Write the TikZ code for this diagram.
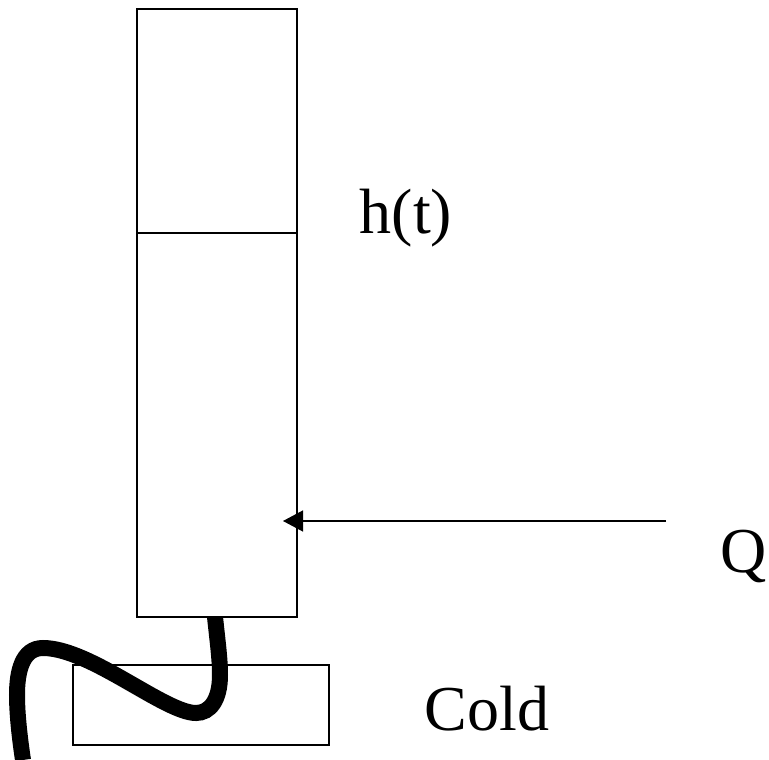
\documentclass[tikz,border=0pt]{standalone}
\usepackage{fontspec}
\setmainfont{Liberation Serif}
\usetikzlibrary{arrows.meta}
\tikzset{lbl/.style={inner sep=0pt,font=\fontsize{64}{64}\selectfont,text=black},
box/.style={draw=black,line width=1.25pt,fill=none}}
\begin{document}
\begin{tikzpicture}[x=1pt,y=-1pt,line join=miter]
\useasboundingbox (0,0) rectangle (769,760);
\node[box,minimum width=160pt,minimum height=608pt,inner sep=0pt] (tube) at (217,313) {};
\coordinate (levelL) at (137,233);
\coordinate (levelR) at (297,233);
\draw[line width=1.25pt] (levelL) -- (levelR);
\node[box,minimum width=256pt,minimum height=80pt,inner sep=0pt] (cold) at (201,705) {};
\coordinate (hs) at (666,521);
\coordinate (he) at (283,521);
\draw[line width=1.25pt,-{Triangle[length=20pt,width=21pt]}] (hs) -- (he);
\node[lbl] (h) at (406,218) {h(t)};
\node[lbl] (q) at (744,556) {Q};
\node[lbl] (c) at (487,709) {Cold};
\coordinate (a) at (215,617);
\coordinate (b) at (23,760);
\draw[line width=16pt,line cap=butt] (a) .. controls (218,645) and (220,660) .. (220,675)
 .. controls (220,700) and (210,713) .. (196,713)
 .. controls (165,713) and (90,648) .. (43,648)
 .. controls (22,648) and (17,672) .. (17,695)
 .. controls (17,715) and (20,740) .. (b);
\end{tikzpicture}
\end{document}
